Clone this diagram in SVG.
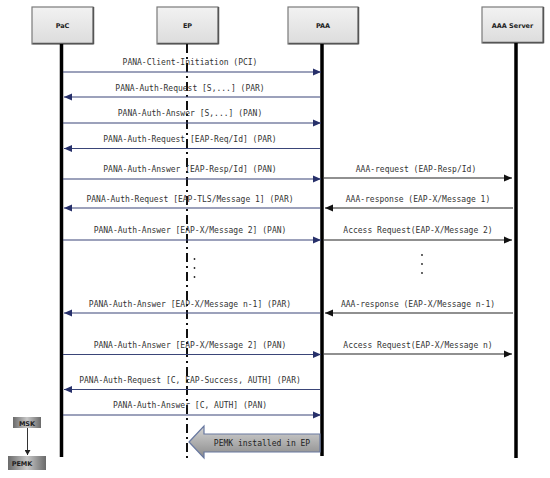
<svg xmlns="http://www.w3.org/2000/svg" width="550" height="478" viewBox="0 0 550 478">
<style>
.box{fill:url(#boxg);stroke:#7a7a7a;stroke-width:1.2}
.sh{fill:none;stroke:#555;stroke-width:1.5}
.bt{font-family:"DejaVu Sans",sans-serif;font-weight:bold;font-size:6.5px;fill:#222;text-anchor:middle}
.life{stroke:#000;stroke-width:3.5}
.ep{stroke:#111;stroke-width:2;stroke-dasharray:9 4 2 4}
.ml{stroke:#3a4578;stroke-width:1.1;fill:none}
.mr{stroke:#222;stroke-width:1.1;fill:none}
.t{font-family:"DejaVu Sans Mono","Liberation Mono",monospace;font-size:8px;fill:#333;text-anchor:middle}
.dot{fill:#222}
</style>
<defs>
<linearGradient id="boxg" x1="0" y1="0" x2="0" y2="1">
<stop offset="0" stop-color="#f2f2f2"/><stop offset="1" stop-color="#dcdcdc"/>
</linearGradient>
<linearGradient id="keyg" x1="0" y1="0" x2="1" y2="0">
<stop offset="0" stop-color="#6a6a6a"/><stop offset="0.5" stop-color="#c8c8c8"/><stop offset="1" stop-color="#6a6a6a"/>
</linearGradient>
<linearGradient id="arrg" x1="0" y1="0" x2="0" y2="1">
<stop offset="0" stop-color="#d4d4d4"/><stop offset="1" stop-color="#8a8a8a"/>
</linearGradient>
<marker id="an" markerUnits="userSpaceOnUse" markerWidth="9" markerHeight="8" refX="8" refY="4" orient="auto">
<path d="M0,0.5 L8,4 L0,7.5 Z" fill="#27306a"/>
</marker>
<marker id="ab" markerUnits="userSpaceOnUse" markerWidth="9" markerHeight="8" refX="8" refY="4" orient="auto">
<path d="M0,0.5 L8,4 L0,7.5 Z" fill="#111"/>
</marker>
<marker id="ak" markerUnits="userSpaceOnUse" markerWidth="6" markerHeight="6" refX="5" refY="3" orient="auto">
<path d="M0,0 L5,3 L0,6 Z" fill="#222"/>
</marker>
</defs>

<g id="node-pac">
<rect class="box" x="32" y="7" width="61" height="37"/>
<path class="sh" d="M32.5,43.5 H93.5 V7"/>
<text class="bt" x="62.5" y="28">PaC</text>
<line class="life" x1="61.5" y1="44" x2="61.5" y2="457"/>
</g>
<g id="node-ep">
<rect class="box" x="157" y="7" width="61" height="37"/>
<path class="sh" d="M157.5,43.5 H218.5 V7"/>
<text class="bt" x="187.5" y="28">EP</text>
<line class="ep" x1="187" y1="44" x2="187" y2="458"/>
</g>
<g id="node-paa">
<rect class="box" x="288" y="7" width="70" height="37"/>
<path class="sh" d="M288.5,43.5 H358.5 V7"/>
<text class="bt" x="323" y="28">PAA</text>
<line class="life" x1="322" y1="44" x2="322" y2="456"/>
</g>
<g id="node-aaa">
<rect class="box" x="482" y="7" width="61" height="36"/>
<path class="sh" d="M482.5,42.5 H543.5 V7"/>
<text class="bt" x="512.5" y="28">AAA Server</text>
<line class="life" x1="516" y1="43" x2="516" y2="458"/>
</g>

<g id="connectors">
<line class="ml" x1="63" y1="72" x2="321" y2="72" marker-end="url(#an)"/>
<line class="ml" x1="320" y1="97" x2="64" y2="97" marker-end="url(#an)"/>
<line class="ml" x1="63" y1="123" x2="321" y2="123" marker-end="url(#an)"/>
<line class="ml" x1="320" y1="148.5" x2="64" y2="148.5" marker-end="url(#an)"/>
<line class="ml" x1="63" y1="179" x2="321" y2="179" marker-end="url(#an)"/>
<line class="ml" x1="320" y1="208" x2="64" y2="208" marker-end="url(#an)"/>
<line class="ml" x1="63" y1="240" x2="321" y2="240" marker-end="url(#an)"/>
<line class="ml" x1="320" y1="313" x2="64" y2="313" marker-end="url(#an)"/>
<line class="ml" x1="63" y1="354.5" x2="321" y2="354.5" marker-end="url(#an)"/>
<line class="ml" x1="320" y1="389.5" x2="64" y2="389.5" marker-end="url(#an)"/>
<line class="ml" x1="63" y1="415" x2="321" y2="415" marker-end="url(#an)"/>

<line class="mr" x1="324" y1="178" x2="512" y2="178" marker-end="url(#ab)"/>
<line class="mr" x1="513" y1="208" x2="325" y2="208" marker-end="url(#ab)"/>
<line class="mr" x1="324" y1="240" x2="512" y2="240" marker-end="url(#ab)"/>
<line class="mr" x1="513" y1="313" x2="325" y2="313" marker-end="url(#ab)"/>
<line class="mr" x1="324" y1="354" x2="512" y2="354" marker-end="url(#ab)"/>
</g>

<g id="labels">
<text class="t" x="190" y="65">PANA-Client-Initiation (PCI)</text>
<text class="t" x="190" y="91">PANA-Auth-Request [S,...] (PAR)</text>
<text class="t" x="190" y="116">PANA-Auth-Answer [S,...] (PAN)</text>
<text class="t" x="190" y="142">PANA-Auth-Request [EAP-Req/Id] (PAR)</text>
<text class="t" x="190" y="172">PANA-Auth-Answer [EAP-Resp/Id] (PAN)</text>
<text class="t" x="190" y="202">PANA-Auth-Request [EAP-TLS/Message 1] (PAR)</text>
<text class="t" x="190" y="233">PANA-Auth-Answer [EAP-X/Message 2] (PAN)</text>
<text class="t" x="190" y="307">PANA-Auth-Answer [EAP-X/Message n-1] (PAR)</text>
<text class="t" x="190" y="348">PANA-Auth-Answer [EAP-X/Message 2] (PAN)</text>
<text class="t" x="190" y="383">PANA-Auth-Request [C, EAP-Success, AUTH] (PAR)</text>
<text class="t" x="190" y="408">PANA-Auth-Answer [C, AUTH] (PAN)</text>

<text class="t" x="416" y="172">AAA-request (EAP-Resp/Id)</text>
<text class="t" x="418" y="202">AAA-response (EAP-X/Message 1)</text>
<text class="t" x="418" y="233">Access Request(EAP-X/Message 2)</text>
<text class="t" x="418" y="307">AAA-response (EAP-X/Message n-1)</text>
<text class="t" x="418" y="348">Access Request(EAP-X/Message n)</text>
</g>

<g id="ellipsis">
<circle class="dot" cx="194.5" cy="259" r="0.9"/>
<circle class="dot" cx="194.5" cy="268" r="0.9"/>
<circle class="dot" cx="194.5" cy="277" r="0.9"/>
<circle class="dot" cx="422" cy="255" r="0.9"/>
<circle class="dot" cx="422" cy="264" r="0.9"/>
<circle class="dot" cx="422" cy="273" r="0.9"/>
</g>

<g id="node-pemk-installed">
<path d="M189,442 L204,426 L204,434 L320,434 L320,452 L204,452 L204,458 Z" fill="url(#arrg)" stroke="#6878a0" stroke-width="1.2"/>
<text class="t" x="262" y="446" style="fill:#222">PEMK installed in EP</text>
</g>

<g id="node-msk">
<rect x="13" y="417" width="28" height="11" fill="url(#keyg)"/>
<text class="bt" x="27" y="425.5">MSK</text>
</g>
<g id="node-pemk">
<rect x="8" y="456" width="38" height="14" fill="url(#keyg)"/>
<text class="bt" x="22" y="466">PEMK</text>
</g>
<g id="key-connector">
<line x1="27.5" y1="428" x2="27.5" y2="455" stroke="#333" stroke-width="1" marker-end="url(#ak)"/>
</g>
</svg>
